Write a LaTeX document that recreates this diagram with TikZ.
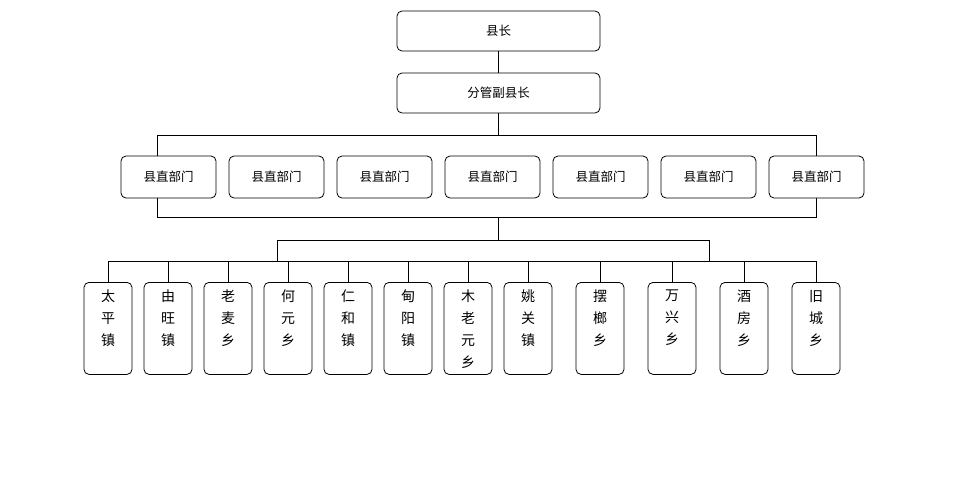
\documentclass[tikz,border=0pt]{standalone}
\usepackage{fontspec}
\setmainfont{Noto Sans CJK SC}
\begin{document}
\begin{tikzpicture}[x=1pt,y=-1pt,line width=0.8pt,
    box/.style={draw, rounded corners=5pt, minimum width=203pt, minimum height=40pt, font=\fontsize{12.5}{14}\selectfont},
    dept/.style={draw, rounded corners=5pt, minimum width=95pt, minimum height=42pt, font=\fontsize{12.5}{14}\selectfont},
    town/.style={draw, rounded corners=5pt, minimum width=48pt, minimum height=92pt, anchor=north, font=\fontsize{14}{22}\selectfont, align=center, text depth=0pt}]
    \useasboundingbox (0,0) rectangle (961,479);
    \node [box] (xz) at (498.5,31) {县长};
    \node [box] (fg) at (498.5,93) {分管副县长};
    \foreach \i/\x in {1/168.5,2/276.5,3/384.5,4/492.5,5/600.5,6/708.5,7/816.5}
        \node [dept] (d\i) at (\x,177) {县直部门};
    \coordinate (t1) at (157,135);
    \coordinate (t2) at (816,135);
    \coordinate (b1) at (157,217);
    \coordinate (b2) at (816,217);
    \coordinate (m1) at (277,240);
    \coordinate (m2) at (709,240);
    \coordinate (r1) at (108,261);
    \coordinate (r2) at (816,261);
    \draw (xz) -- (fg);
    \draw (fg.south) -- (fg.south |- t1);
    \draw (d1.north -| t1) -- (t1) -- (t2) -- (d7.north -| t2);
    \draw (d1.south -| b1) -- (b1) -- (b2) -- (d7.south -| b2);
    \draw (b1 -| fg) -- (m1 -| fg);
    \draw (r1 -| m1) -- (m1) -- (m2) -- (r2 -| m2);
    \draw (r1) -- (r2);
    \foreach \i/\x/\t in {1/108/太\\平\\镇\\~,2/168/由\\旺\\镇\\~,3/228/老\\麦\\乡\\~,4/288/何\\元\\乡\\~,5/348/仁\\和\\镇\\~,6/408/甸\\阳\\镇\\~,7/468/木\\老\\元\\乡,8/528/姚\\关\\镇\\~,9/600/摆\\榔\\乡\\~,10/672/万\\兴\\乡\\~,11/744/酒\\房\\乡\\~,12/816/旧\\城\\乡\\~}
    {
        \node [town] (z\i) at (\x,282) {\t};
        \draw (z\i.north |- r1) -- (z\i.north);
    }
\end{tikzpicture}
\end{document}
